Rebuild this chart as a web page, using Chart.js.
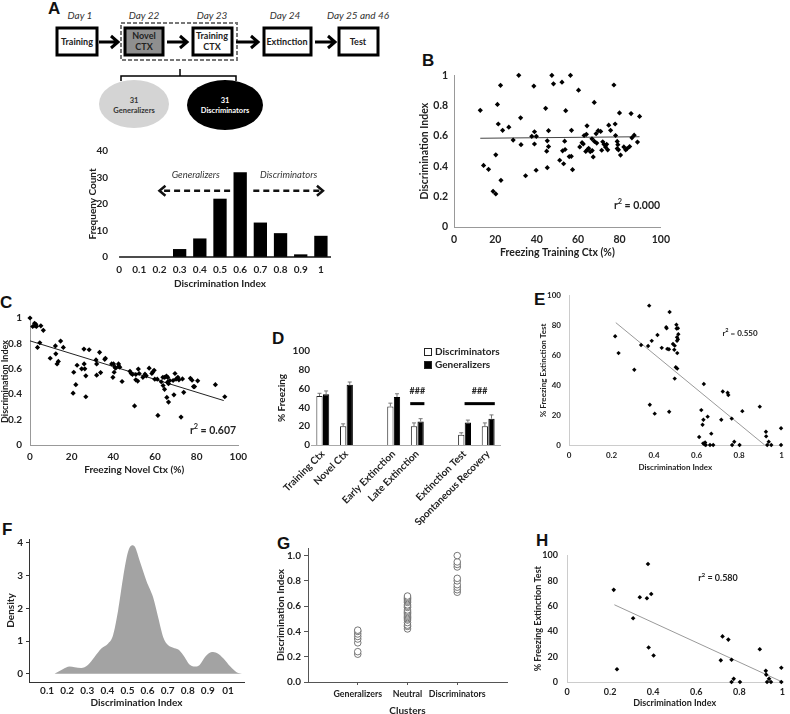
<!DOCTYPE html>
<html>
<head>
<meta charset="utf-8">
<script src="https://cdn.jsdelivr.net/npm/chart.js@4.4.1/dist/chart.umd.min.js"></script>
<style>
  body { margin: 0; width: 790px; height: 714px; position: relative; overflow: hidden; background: #fff; font-family: Lato, "Open Sans", sans-serif; }
  canvas { position: absolute; }
  .pl { position: absolute; font: bold 17px "Liberation Sans", Arial, sans-serif; color: #111; line-height: 1; }
  .note { position: absolute; font-weight: bold; color: #222; white-space: nowrap; transform: translate(-50%, -50%); }
  .note sup { font-size: 70%; }
  .leg { position: absolute; font: bold 10px Lato, sans-serif; color: #222; white-space: nowrap; }
  .leg span { display: inline-block; width: 6px; height: 6px; border: 1px solid #222; margin-right: 3px; vertical-align: -1px; }
</style>
</head>
<body>

<svg width="400" height="135" style="position:absolute;left:0;top:0" font-family="Lato, 'Open Sans', sans-serif">
  <g font-style="italic" font-size="10" fill="#333" text-anchor="middle">
    <text x="80" y="19">Day 1</text>
    <text x="144" y="19">Day 22</text>
    <text x="212" y="19">Day 23</text>
    <text x="285" y="19">Day 24</text>
    <text x="358" y="19">Day 25 and 46</text>
  </g>
  <rect x="121" y="23" width="116" height="37" fill="none" stroke="#777" stroke-width="2" stroke-dasharray="4,2"/>
  <g stroke="#000" stroke-width="3">
    <rect x="57" y="28" width="40" height="27" fill="#fff"/>
    <rect x="125" y="28" width="38" height="27" fill="#8f8f8f"/>
    <rect x="193" y="28" width="39" height="27" fill="#fff"/>
    <rect x="264" y="28" width="47" height="27" fill="#fff"/>
    <rect x="339" y="28" width="39" height="27" fill="#fff"/>
  </g>
  <g stroke="#000" stroke-width="3" fill="none">
    <path d="M99,42 H117 M111,36 L118,42 L111,48"/>
    <path d="M167,42 H186 M180,36 L187,42 L180,48"/>
    <path d="M236,42 H257 M251,36 L258,42 L251,48"/>
    <path d="M315,42 H334 M328,36 L335,42 L328,48"/>
  </g>
  <g font-weight="bold" font-size="9" fill="#222" text-anchor="middle">
    <text x="77" y="45">Training</text>
    <text x="144" y="39">Novel</text>
    <text x="144" y="50">CTX</text>
    <text x="212" y="39">Training</text>
    <text x="212" y="50">CTX</text>
    <text x="287" y="45">Extinction</text>
    <text x="358" y="45">Test</text>
  </g>
  <path d="M121,81 V76 H236 V81 M180,76 V69" stroke="#000" stroke-width="1.5" fill="none"/>
  <ellipse cx="134" cy="104" rx="35" ry="24" fill="#d4d4d4"/>
  <ellipse cx="225" cy="105" rx="38" ry="25" fill="#000"/>
  <g font-weight="bold" font-size="7.5" text-anchor="middle">
    <text x="134" y="103" fill="#333">31</text>
    <text x="134" y="113" fill="#333">Generalizers</text>
    <text x="225" y="103" fill="#fff">31</text>
    <text x="225" y="113" fill="#fff">Discriminators</text>
  </g>
</svg>

<div class="pl" style="left:48px;top:0px">A</div>
<div class="pl" style="left:422px;top:52px">B</div>
<div class="pl" style="left:0px;top:294px">C</div>
<div class="pl" style="left:272px;top:330px">D</div>
<div class="pl" style="left:534px;top:291px">E</div>
<div class="pl" style="left:2px;top:521px">F</div>
<div class="pl" style="left:277px;top:535px">G</div>
<div class="pl" style="left:536px;top:532px">H</div>

<canvas id="histA"></canvas>
<canvas id="chartB"></canvas>
<canvas id="chartC"></canvas>
<canvas id="chartD"></canvas>
<canvas id="chartE"></canvas>
<canvas id="chartF"></canvas>
<canvas id="chartG"></canvas>
<canvas id="chartH"></canvas>

<div class="note" style="left:637px;top:204px;font-size:10.5px">r<sup>2</sup> = 0.000</div>
<div class="note" style="left:213px;top:429px;font-size:10.5px">r<sup>2</sup> = 0.607</div>
<div class="note" style="left:740px;top:332px;font-size:8px">r<sup>2</sup> = 0.550</div>
<div class="note" style="left:718px;top:577px;font-size:9px">r<sup>2</sup> = 0.580</div>

<div class="leg" style="left:424px;top:345px"><span style="background:#fff"></span>Discriminators</div>
<div class="leg" style="left:424px;top:358px"><span style="background:#000"></span>Generalizers</div>

<script>
// A: histogram of the discrimination index
const histBins = ['0', '0.1', '0.2', '0.3', '0.4', '0.5', '0.6', '0.7', '0.8', '0.9', '1'];
const histCounts = [0, 0, 0, 3, 7, 22, 32, 13, 9, 1, 8];

// B: freezing in training ctx vs discrimination index
const bFreezing = [12.7, 14.3, 16.7, 18.9, 20.2, 20.2, 21.0, 21.4, 22.5, 22.7, 23.5, 26.5, 28.6, 31.3, 32.2, 32.4, 34.6, 37.6, 38.6, 38.9,
  38.9, 39.8, 39.7, 44.3, 44.8, 45.1, 45.1, 45.7, 45.7, 47.3, 48.1, 51.1, 52.2, 52.5, 53.0, 53.5, 53.7, 54.0, 55.7, 56.3,
  56.7, 56.8, 57.3, 60.2, 60.8, 61.9, 62.5, 62.9, 63.7, 64.0, 64.3, 64.6, 65.1, 65.9, 66.7, 66.8, 67.3, 67.8, 67.9, 68.7,
  69.0, 69.7, 70.9, 71.4, 71.9, 72.5, 73.3, 73.8, 74.3, 74.8, 75.7, 77.3, 77.9, 78.1, 78.9, 78.9, 79.5, 80.0, 80.5, 82.1,
  83.0, 83.7, 84.9, 85.6, 86.0, 87.1, 88.7, 89.7, 79.2];
const bIndex = [0.769, 0.406, 0.380, 0.235, 0.218, 0.476, 0.808, 0.679, 0.934, 0.308, 0.637, 0.658, 0.573, 1.0, 0.720, 0.543, 0.338, 0.598, 0.929, 0.628,
  0.547, 0.598, 0.374, 0.782, 0.500, 0.568, 0.391, 0.635, 0.530, 1.0, 0.944, 0.440, 0.955, 0.502, 0.417, 0.566, 0.511, 0.767, 0.464, 1.0,
  0.466, 0.637, 0.378, 0.902, 0.528, 0.556, 0.547, 0.603, 0.498, 0.611, 0.667, 0.511, 0.519, 0.496, 0.581, 0.504, 0.462, 0.821, 0.564, 0.615,
  0.553, 0.635, 0.630, 0.506, 0.562, 0.545, 0.526, 0.545, 0.509, 0.671, 0.637, 0.936, 0.679, 0.603, 0.564, 0.517, 0.509, 0.752, 0.474, 0.528,
  0.509, 0.517, 0.530, 0.748, 0.588, 0.605, 0.560, 0.729, 0.543];
const bFitX = [12.7, 89.7];
const bFitY = [0.585, 0.595];

// C: freezing in novel ctx vs discrimination index
const cFreezing = [0, 1.3, 2.2, 2.5, 2.8, 3.1, 3.6, 4.7, 5.2, 6.4, 9.7, 12.2, 12.4, 13.0, 13.6, 14.7, 16.0, 20.7, 21.0, 22.0,
  22.6, 24.8, 25.9, 26.0, 26.3, 26.8, 26.8, 28.4, 31.7, 32.0, 32.0, 33.4, 33.9, 35.9, 36.2, 39.2, 39.8, 40.1, 40.4, 40.8,
  41.1, 42.5, 42.6, 43.1, 44.2, 48.0, 48.6, 49.2, 50.2, 50.8, 50.8, 51.7, 52.0, 52.4, 54.2, 55.2, 55.8, 57.2, 58.5, 58.9,
  59.6, 59.9, 61.1, 61.4, 63.0, 63.8, 63.9, 64.6, 64.7, 65.5, 65.7, 66.0, 66.1, 66.5, 66.5, 67.1, 68.7, 69.1, 69.6, 70.1,
  71.0, 71.5, 72.5, 73.2, 73.8, 77.0, 77.8, 78.5, 79.0, 80.5, 89.0, 93.5];
const cIndex = [1.0, 0.933, 0.958, 0.938, 0.950, 0.933, 0.768, 0.805, 0.938, 0.903, 0.683, 0.780, 0.718, 0.638, 0.658, 0.818, 0.768, 0.408, 0.573, 0.475,
  0.628, 0.600, 0.755, 0.638, 0.600, 0.545, 0.380, 0.750, 0.670, 0.638, 0.550, 0.730, 0.570, 0.675, 0.683, 0.638, 0.533, 0.638, 0.573, 0.613,
  0.605, 0.638, 0.620, 0.613, 0.500, 0.580, 0.563, 0.555, 0.308, 0.555, 0.513, 0.503, 0.598, 0.563, 0.533, 0.558, 0.545, 0.605, 0.563, 0.575,
  0.588, 0.518, 0.518, 0.233, 0.498, 0.533, 0.468, 0.438, 0.533, 0.543, 0.375, 0.495, 0.533, 0.338, 0.483, 0.508, 0.508, 0.395, 0.563, 0.518,
  0.533, 0.513, 0.220, 0.520, 0.415, 0.525, 0.510, 0.460, 0.460, 0.505, 0.475, 0.380];
const cFitX = [0, 93];
const cFitY = [0.82, 0.35];

// D: mean freezing per session (blank entries are gaps between phases)
const dSessions = ['Training Ctx', 'Novel Ctx', '', 'Early Extinction', 'Late Extinction', '', 'Extinction Test', 'Spontaneous Recovery'];
const dDiscrim = [52, 20, null, 41, 20, null, 11, 20];
const dDiscrimErr = [3, 2.5, null, 3.5, 3.5, null, 2, 3.5];
const dGeneral = [54, 64, null, 51, 25, null, 24, 28];
const dGeneralErr = [3.5, 3, null, 3.5, 3, null, 2.5, 4];
const dSigFrom = [3.7, 6.0];
const dSigTo = [4.3, 7.28];
const dSigLevel = 44;

// E: discrimination index vs freezing at extinction test (all animals)
const eIndex = [0.217, 0.233, 0.307, 0.339, 0.372, 0.377, 0.380, 0.389, 0.403, 0.416, 0.436, 0.457, 0.459, 0.462, 0.470, 0.471, 0.473, 0.489, 0.495, 0.497,
  0.497, 0.502, 0.505, 0.506, 0.508, 0.508, 0.509, 0.509, 0.512, 0.512, 0.514, 0.612, 0.622, 0.628, 0.631, 0.632, 0.634, 0.637, 0.640, 0.643,
  0.652, 0.663, 0.669, 0.678, 0.716, 0.723, 0.746, 0.749, 0.765, 0.767, 0.777, 0.802, 0.815, 0.897, 0.926, 0.927, 0.932, 0.939, 0.951, 0.997, 0.997];
const eFreezing = [72.9, 61.6, 50.4, 67.0, 66.4, 93.4, 27.0, 69.8, 21.0, 73.7, 65.1, 78.9, 78.3, 64.4, 64.2, 22.3, 89.1, 67.7, 63.8, 66.6,
  44.5, 52.1, 80.6, 78.1, 72.2, 69.8, 61.6, 51.2, 70.9, 78.3, 74.2, 5.4, 23.4, 13.6, 1.1, 16.9, 40.9, 0.4, 1.7, 0,
  19.0, 0, 7.6, 0, 16.9, 35.9, 35.0, 33.5, 17.7, 0, 2.2, 0, 22.7, 25.7, 8.9, 5.8, 0, 2.2, 0, 11.2, 0];
const eFitX = [0.22, 0.92];
const eFitY = [82, 0];

// F: density of the discrimination index
const fIndex = [0.137, 0.178, 0.212, 0.237, 0.27, 0.303, 0.337, 0.37, 0.403, 0.428, 0.453, 0.478, 0.503, 0.523, 0.537, 0.562, 0.595, 0.628, 0.653, 0.678,
  0.703, 0.728, 0.753, 0.778, 0.812, 0.845, 0.862, 0.887, 0.92, 0.945, 0.978, 1.012, 1.045, 1.07];
const fDensity = [0, 0.14, 0.22, 0.2, 0.18, 0.27, 0.52, 0.77, 0.92, 1.17, 1.92, 2.93, 3.73, 3.93, 3.88, 3.43, 2.83, 2.33, 1.72, 1.12,
  0.87, 0.8, 0.74, 0.57, 0.27, 0.22, 0.29, 0.52, 0.67, 0.64, 0.47, 0.22, 0.04, 0];
const fTicks = [0.1, 0.2, 0.3, 0.4, 0.5, 0.6, 0.7, 0.8, 0.9, 1.0];
const fTickLabels = ['0.1', '0.2', '0.3', '0.4', '0.5', '0.6', '0.7', '0.8', '0.9', '01'];

// G: clusters
const gClusters = ['Generalizers', 'Neutral', 'Discriminators'];
const gGeneralizers = [0.22, 0.24, 0.31, 0.34, 0.36, 0.38, 0.40, 0.41];
const gNeutral = [0.42, 0.44, 0.45, 0.47, 0.49, 0.50, 0.51, 0.52, 0.53, 0.54, 0.55, 0.56, 0.57, 0.59, 0.60, 0.61, 0.63, 0.64, 0.65, 0.66, 0.67, 0.68];
const gDiscriminators = [0.71, 0.73, 0.75, 0.77, 0.80, 0.82, 0.91, 0.93, 0.95, 1.0];

// H: generalizers and discriminators only
const hIndex = [0.217, 0.232, 0.307, 0.338, 0.371, 0.376, 0.379, 0.391, 0.402, 0.714, 0.722, 0.749, 0.764, 0.764, 0.774, 0.803, 0.895, 0.923, 0.925, 0.929,
  0.938, 0.947, 0.995, 0.995];
const hFreezing = [72.8, 10.1, 50.4, 67.0, 66.2, 93.2, 27.2, 69.5, 20.9, 17.1, 36.0, 33.5, 17.6, 0, 2.5, 0, 25.9, 8.8, 5.8, 0,
  2.5, 0, 11.3, 0];
const hFitX = [0.22, 1.0];
const hFitY = [61, 0];

Chart.defaults.font.family = 'Lato, "Open Sans", sans-serif';
Chart.defaults.font.weight = 'bold';
Chart.defaults.color = '#222';
Chart.defaults.plugins.legend.display = false;
Chart.defaults.plugins.tooltip.enabled = false;
Chart.defaults.animation = false;

const zip = (xs, ys) => xs.map((x, i) => ({ x: x, y: ys[i] }));

// canvas placed so that the plot area lands on box L,T,R,B (page pixels)
function makeChart(id, box, config) {
  const cv = document.getElementById(id);
  const left = box.L - box.yw, top = box.T - box.pt;
  cv.width = box.R + box.pr - left;
  cv.height = box.B + box.xh - top;
  cv.style.left = left + 'px';
  cv.style.top = top + 'px';
  config.options.responsive = false;
  config.options.devicePixelRatio = 1;
  config.options.layout = { padding: { top: box.pt, right: box.pr, left: 0, bottom: 0 } };
  config.options.scales.y.afterFit = (s) => { s.width = box.yw; };
  config.options.scales.x.afterFit = (s) => { s.height = box.xh; };
  return new Chart(cv, config);
}

function yTitle(text, x, box, size) {
  const pad = Math.max(0, x - (box.L - box.yw) - size * 0.6);
  return { display: true, text: text, font: { size: size }, padding: { top: pad, bottom: 0 } };
}
function xTitle(text, y, box, size) {
  const pad = Math.max(0, box.B + box.xh - y - size * 0.6);
  return { display: true, text: text, font: { size: size }, padding: { top: 0, bottom: pad } };
}
const fixTicks = (vals) => (s) => { s.ticks = vals.map((v) => ({ value: v })); };
const plain = (v) => String(v);

// ---------- A histogram
const boxA = { L: 109, T: 151, R: 331, B: 257, yw: 25, xh: 36, pt: 8, pr: 8 };
const histArrows = {
  id: 'histArrows',
  afterDatasetsDraw(chart) {
    const { ctx, chartArea, scales: { x, y } } = chart;
    ctx.save();
    // baseline starts at the first bin, as in the figure
    ctx.strokeStyle = '#111';
    ctx.lineWidth = 1.5;
    ctx.beginPath();
    ctx.moveTo(x.getPixelForValue(0), y.getPixelForValue(0));
    ctx.lineTo(chartArea.right, y.getPixelForValue(0));
    ctx.stroke();

    const yy = y.getPixelForValue(25);
    ctx.lineWidth = 2.5;
    ctx.setLineDash([6, 4]);
    ctx.beginPath();
    ctx.moveTo(x.getPixelForValue(5.5), yy); ctx.lineTo(x.getPixelForValue(2.0) + 2, yy);
    ctx.moveTo(x.getPixelForValue(6.65), yy); ctx.lineTo(x.getPixelForValue(10.1) - 2, yy);
    ctx.stroke();
    ctx.setLineDash([]);
    ctx.beginPath();
    const l = x.getPixelForValue(2.0), r = x.getPixelForValue(10.1);
    ctx.moveTo(l + 6, yy - 5); ctx.lineTo(l, yy); ctx.lineTo(l + 6, yy + 5);
    ctx.moveTo(r - 6, yy - 5); ctx.lineTo(r, yy); ctx.lineTo(r - 6, yy + 5);
    ctx.stroke();
    ctx.font = 'italic 9.5px Lato, sans-serif';
    ctx.fillStyle = '#333';
    ctx.textAlign = 'center';
    ctx.textBaseline = 'middle';
    ctx.fillText('Generalizers', x.getPixelForValue(3.8), y.getPixelForValue(31));
    ctx.fillText('Discriminators', x.getPixelForValue(8.4), y.getPixelForValue(31));
    ctx.restore();
  }
};
makeChart('histA', boxA, {
  type: 'bar',
  data: {
    labels: histBins,
    datasets: [{ data: histCounts, backgroundColor: '#000', barPercentage: 0.66, categoryPercentage: 1 }]
  },
  options: {
    scales: {
      x: {
        grid: { display: false, drawTicks: false },
        border: { display: false },
        ticks: { font: { size: 10 }, padding: 7, maxRotation: 0 },
        title: xTitle('Discrimination Index', 284, boxA, 10)
      },
      y: {
        min: 0, max: 40,
        afterBuildTicks: fixTicks([0, 10, 20, 30, 40]),
        grid: { display: false, drawTicks: false },
        border: { display: false },
        ticks: { font: { size: 10 }, padding: 1 },
        title: yTitle('Frequeny Count', 93, boxA, 10)
      }
    }
  },
  plugins: [histArrows]
});

// ---------- scatter panels
function scatterAxes(box, o) {
  return {
    x: {
      type: 'linear', min: o.xMin, max: o.xMax,
      afterBuildTicks: fixTicks(o.xTicks),
      grid: { display: false, drawTicks: false },
      border: { color: o.axisColor, width: 1 },
      ticks: { font: { size: o.size }, padding: o.xPad, maxRotation: 0, callback: plain },
      title: xTitle(o.xTitle, o.xTitleY, box, o.size)
    },
    y: {
      min: o.yMin, max: o.yMax,
      afterBuildTicks: fixTicks(o.yTicks),
      grid: { display: false, drawTicks: false },
      border: { color: o.axisColor, width: 1 },
      ticks: { font: { size: o.size }, padding: o.yPad, callback: plain },
      title: yTitle(o.yTitle, o.yTitleX, box, o.titleSize || o.size)
    }
  };
}

const boxB = { L: 454, T: 71, R: 664, B: 227, yw: 37, xh: 34, pt: 8, pr: 12 };
makeChart('chartB', boxB, {
  type: 'scatter',
  data: {
    datasets: [
      { data: zip(bFreezing, bIndex), pointStyle: 'rectRot', pointRadius: 2.6, backgroundColor: '#000', borderWidth: 0, clip: false },
      { data: zip(bFitX, bFitY), showLine: true, borderColor: '#444', borderWidth: 1, pointRadius: 0 }
    ]
  },
  options: {
    scales: scatterAxes(boxB, {
      xMin: 0, xMax: 100, xTicks: [0, 20, 40, 60, 80, 100], yMin: 0, yMax: 1, yTicks: [0, 0.2, 0.4, 0.6, 0.8, 1],
      axisColor: '#999', size: 10.5, xPad: 6, yPad: 6,
      xTitle: 'Freezing Training Ctx (%)', xTitleY: 253, yTitle: 'Discrimination Index', yTitleX: 425
    })
  }
});

const boxC = { L: 30, T: 312, R: 243, B: 445, yw: 30, xh: 31, pt: 8, pr: 10 };
makeChart('chartC', boxC, {
  type: 'scatter',
  data: {
    datasets: [
      { data: zip(cFreezing, cIndex), pointStyle: 'rectRot', pointRadius: 2.6, backgroundColor: '#000', borderWidth: 0, clip: false },
      { data: zip(cFitX, cFitY), showLine: true, borderColor: '#222', borderWidth: 1, pointRadius: 0 }
    ]
  },
  options: {
    scales: scatterAxes(boxC, {
      xMin: 0, xMax: 100, xTicks: [0, 20, 40, 60, 80, 100], yMin: 0, yMax: 1, yTicks: [0, 0.2, 0.4, 0.6, 0.8, 1],
      axisColor: '#999', size: 10, titleSize: 9, xPad: 6, yPad: 8,
      xTitle: 'Freezing Novel Ctx (%)', xTitleY: 470, yTitle: 'Discrimination Index', yTitleX: 4
    })
  }
});

const boxE = { L: 569, T: 291, R: 788, B: 445, yw: 32, xh: 28, pt: 8, pr: 2 };
makeChart('chartE', boxE, {
  type: 'scatter',
  data: {
    datasets: [
      { data: zip(eIndex, eFreezing), pointStyle: 'rectRot', pointRadius: 2.2, backgroundColor: '#000', borderWidth: 0, clip: false },
      { data: zip(eFitX, eFitY), showLine: true, borderColor: '#9a9a9a', borderWidth: 1, pointRadius: 0 }
    ]
  },
  options: {
    scales: scatterAxes(boxE, {
      xMin: 0, xMax: 1, xTicks: [0, 0.2, 0.4, 0.6, 0.8, 1], yMin: 0, yMax: 100, yTicks: [0, 20, 40, 60, 80, 100],
      axisColor: '#ccc', size: 8, xPad: 6, yPad: 8,
      xTitle: 'Discrimination Index', xTitleY: 467, yTitle: '% Freezing Extinction Test', yTitleX: 543
    })
  }
});

const boxH = { L: 567, T: 549, R: 788, B: 682, yw: 35, xh: 28, pt: 8, pr: 2 };
makeChart('chartH', boxH, {
  type: 'scatter',
  data: {
    datasets: [
      { data: zip(hIndex, hFreezing), pointStyle: 'rectRot', pointRadius: 2.3, backgroundColor: '#000', borderWidth: 0, clip: false },
      { data: zip(hFitX, hFitY), showLine: true, borderColor: '#9a9a9a', borderWidth: 1, pointRadius: 0 }
    ]
  },
  options: {
    scales: scatterAxes(boxH, {
      xMin: 0, xMax: 1, xTicks: [0, 0.2, 0.4, 0.6, 0.8, 1], yMin: 0, yMax: 100, yTicks: [0, 20, 40, 60, 80, 100],
      axisColor: '#ccc', size: 9, xPad: 5, yPad: 9,
      xTitle: 'Discrimination Index', xTitleY: 703, yTitle: '% Freezing Extinction Test', yTitleX: 538
    })
  }
});

// ---------- D grouped bars with error bars
const boxD = { L: 311, T: 351, R: 500, B: 445, yw: 37, xh: 80, pt: 8, pr: 4 };
const dMarks = {
  id: 'dMarks',
  afterDatasetsDraw(chart) {
    const { ctx, scales: { x, y } } = chart;
    ctx.save();
    ctx.strokeStyle = '#777';
    ctx.lineWidth = 1;
    chart.data.datasets.forEach((ds, i) => {
      chart.getDatasetMeta(i).data.forEach((bar, j) => {
        if (ds.data[j] == null) return;
        const top = y.getPixelForValue(ds.data[j] + ds.errors[j]);
        ctx.beginPath();
        ctx.moveTo(bar.x, bar.y); ctx.lineTo(bar.x, top);
        ctx.moveTo(bar.x - 2, top); ctx.lineTo(bar.x + 2, top);
        ctx.stroke();
      });
    });
    ctx.strokeStyle = '#000';
    ctx.lineWidth = 3;
    ctx.fillStyle = '#222';
    ctx.font = 'bold 9px Lato, sans-serif';
    ctx.textAlign = 'center';
    ctx.textBaseline = 'middle';
    dSigFrom.forEach((from, k) => {
      const yy = y.getPixelForValue(dSigLevel);
      const x0 = x.getPixelForValue(from), x1 = x.getPixelForValue(dSigTo[k]);
      ctx.beginPath();
      ctx.moveTo(x0, yy); ctx.lineTo(x1, yy);
      ctx.stroke();
      ctx.fillText('###', (x0 + x1) / 2, y.getPixelForValue(dSigLevel + 13));
    });
    ctx.restore();
  }
};
makeChart('chartD', boxD, {
  type: 'bar',
  data: {
    labels: dSessions,
    datasets: [
      { data: dDiscrim, errors: dDiscrimErr, backgroundColor: '#fff', borderColor: '#222', borderWidth: 1, barPercentage: 0.95, categoryPercentage: 0.56 },
      { data: dGeneral, errors: dGeneralErr, backgroundColor: '#000', borderColor: '#000', borderWidth: 1, barPercentage: 0.95, categoryPercentage: 0.56 }
    ]
  },
  options: {
    scales: {
      x: {
        grid: { display: false, drawTicks: false },
        border: { color: '#aaa', width: 1 },
        ticks: { font: { size: 10 }, padding: 3, autoSkip: false, minRotation: 45, maxRotation: 45 }
      },
      y: {
        min: 0, max: 100,
        afterBuildTicks: fixTicks([0, 20, 40, 60, 80, 100]),
        grid: { display: false, drawTicks: false },
        border: { display: false },
        ticks: { font: { size: 10 }, padding: 1 },
        title: yTitle('% Freezing', 282, boxD, 10)
      }
    }
  },
  plugins: [dMarks]
});

// ---------- F density
const boxF = { L: 29, T: 538, R: 244, B: 682, yw: 29, xh: 28, pt: 8, pr: 6 };
makeChart('chartF', boxF, {
  type: 'line',
  data: {
    datasets: [{
      data: zip(fIndex, fDensity), fill: 'origin', backgroundColor: '#a3a3a3', borderWidth: 0,
      pointRadius: 0, cubicInterpolationMode: 'monotone'
    }]
  },
  options: {
    scales: {
      x: {
        type: 'linear', min: 0.01, max: 1.08,
        afterBuildTicks: fixTicks(fTicks),
        grid: { display: false, drawTicks: false },
        border: { color: '#333', width: 1 },
        ticks: { font: { size: 10 }, padding: 3, maxRotation: 0, callback: (v, i) => fTickLabels[i] },
        title: xTitle('Discrimination Index', 703, boxF, 10)
      },
      y: {
        min: -0.25, max: 4.12,
        afterBuildTicks: fixTicks([0, 1, 2, 3, 4]),
        grid: { drawOnChartArea: false, drawTicks: true, tickLength: 3, color: '#333' },
        border: { color: '#333', width: 1 },
        ticks: { font: { size: 10 }, padding: 3 },
        title: yTitle('Density', 11, boxF, 10)
      }
    }
  }
});

// ---------- G clusters
const boxG = { L: 308, T: 547, R: 507, B: 682, yw: 34, xh: 36, pt: 8, pr: 6 };
const gPoint = { pointStyle: 'circle', pointRadius: 3.3, backgroundColor: '#fff', borderColor: '#555', borderWidth: 0.8, clip: false };
makeChart('chartG', boxG, {
  type: 'scatter',
  data: {
    datasets: [
      Object.assign({ data: gGeneralizers.map((v) => ({ x: 1, y: v })) }, gPoint),
      Object.assign({ data: gNeutral.map((v) => ({ x: 2, y: v })) }, gPoint),
      Object.assign({ data: gDiscriminators.map((v) => ({ x: 3, y: v })) }, gPoint)
    ]
  },
  options: {
    scales: {
      x: {
        min: 0, max: 4,
        afterBuildTicks: fixTicks([1, 2, 3]),
        grid: { drawOnChartArea: false, drawTicks: true, tickLength: 3, color: '#555' },
        border: { color: '#555', width: 1 },
        ticks: { font: { size: 8.8 }, padding: 4, maxRotation: 0, callback: (v) => gClusters[v - 1] },
        title: xTitle('Clusters', 711, boxG, 10)
      },
      y: {
        min: 0, max: 1.06,
        afterBuildTicks: fixTicks([0, 0.2, 0.4, 0.6, 0.8, 1.0]),
        grid: { drawOnChartArea: false, drawTicks: true, tickLength: 4, color: '#555' },
        border: { color: '#555', width: 1 },
        ticks: { font: { size: 10 }, padding: 3, callback: (v) => v.toFixed(1) },
        title: yTitle('Discrimination Index', 281, boxG, 10)
      }
    }
  }
});
</script>
</body>
</html>
